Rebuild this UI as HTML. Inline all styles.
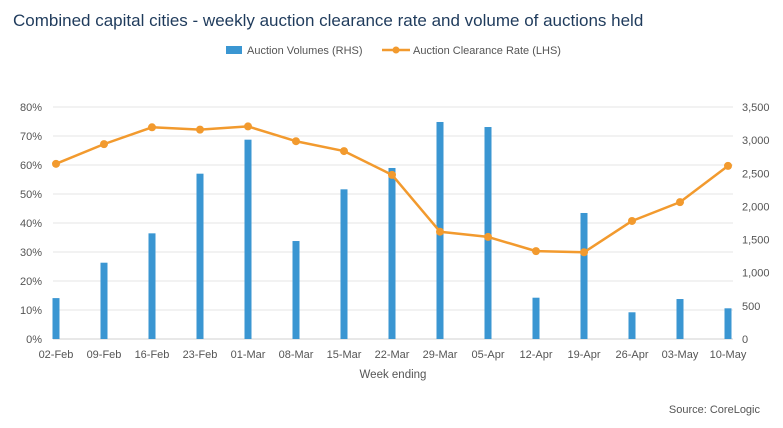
<!DOCTYPE html>
<html><head><meta charset="utf-8"><style>
body{margin:0;background:#fff;font-family:"Liberation Sans",sans-serif;}
svg{display:block}
</style></head><body>
<svg id="chart" width="783" height="428">
<text x="13" y="26" font-size="17" fill="#1f3b5c">Combined capital cities - weekly auction clearance rate and volume of auctions held</text>
<g>
<rect x="226" y="46" width="16" height="8" fill="#3a96d2"/>
<text x="247" y="54" font-size="11" fill="#555">Auction Volumes (RHS)</text>
<line x1="382" y1="50" x2="410" y2="50" stroke="#f29a2e" stroke-width="2.5"/>
<circle cx="396" cy="50" r="3.5" fill="#f29a2e"/>
<text x="413" y="54" font-size="11" fill="#555">Auction Clearance Rate (LHS)</text>
</g>
<g id="grid"></g><g id="bars"></g><g id="line"></g><g id="axes"></g>
<text x="393" y="378" font-size="11.5" fill="#555" text-anchor="middle">Week ending</text>
<text x="760" y="413" font-size="11" fill="#555" text-anchor="end">Source: CoreLogic</text>
</svg>
<script>
const categories=["02-Feb","09-Feb","16-Feb","23-Feb","01-Mar","08-Mar","15-Mar","22-Mar","29-Mar","05-Apr","12-Apr","19-Apr","26-Apr","03-May","10-May"];
const volumes=[617,1151,1594,2494,3007,1478,2258,2580,3274,3198,623,1901,403,603,463];
const clearance=[60.4,67.2,73.0,72.2,73.3,68.2,64.8,56.6,37.0,35.2,30.3,29.9,40.7,47.2,59.7];
const leftTicks=[0,10,20,30,40,50,60,70,80];
const rightTicks=[0,500,1000,1500,2000,2500,3000,3500];
const NS="http://www.w3.org/2000/svg";
const y0=339,yTop=107,x0=56,step=48;
const xS=i=>x0+i*step;
const yL=v=>y0-(v/80)*(y0-yTop);
const yR=v=>y0-(v/3500)*(y0-yTop);
function mk(t,a,p){const e=document.createElementNS(NS,t);for(const k in a)e.setAttribute(k,a[k]);p.appendChild(e);return e;}
const g=document.getElementById('grid'),b=document.getElementById('bars'),l=document.getElementById('line'),ax=document.getElementById('axes');
leftTicks.forEach(v=>{
 const ln=mk('line',{x1:53,x2:733,y1:yL(v),y2:yL(v),stroke:v===0?'#d0d0d0':'#e6e6e6','stroke-width':1},g);
 
 
 const t=mk('text',{x:42,y:yL(v)+4,'font-size':11,fill:'#555','text-anchor':'end'},ax);t.textContent=v+'%';
 
 
});
rightTicks.forEach(v=>{
 const t=mk('text',{x:742,y:yR(v)+4,'font-size':11,fill:'#555'},ax);t.textContent=v.toLocaleString('en-US');
 
 
});
categories.forEach((c,i)=>{
 const t=mk('text',{x:xS(i),y:358,'font-size':11,fill:'#555','text-anchor':'middle'},ax);t.textContent=c;
 
 
 const r=mk('rect',{x:xS(i)-3.5,y:yR(volumes[i]),width:7,height:y0-yR(volumes[i]),fill:'#3a96d2'},b);
 
 
});
const p=mk('polyline',{points:clearance.map((v,i)=>xS(i)+','+yL(v)).join(' '),fill:'none',stroke:'#f29a2e','stroke-width':2.5,'stroke-linejoin':'round'},l);


clearance.forEach((v,i)=>{
 const c=mk('circle',{cx:xS(i),cy:yL(v),r:4,fill:'#f29a2e'},l);
 
 
});
</script>
</body></html>
